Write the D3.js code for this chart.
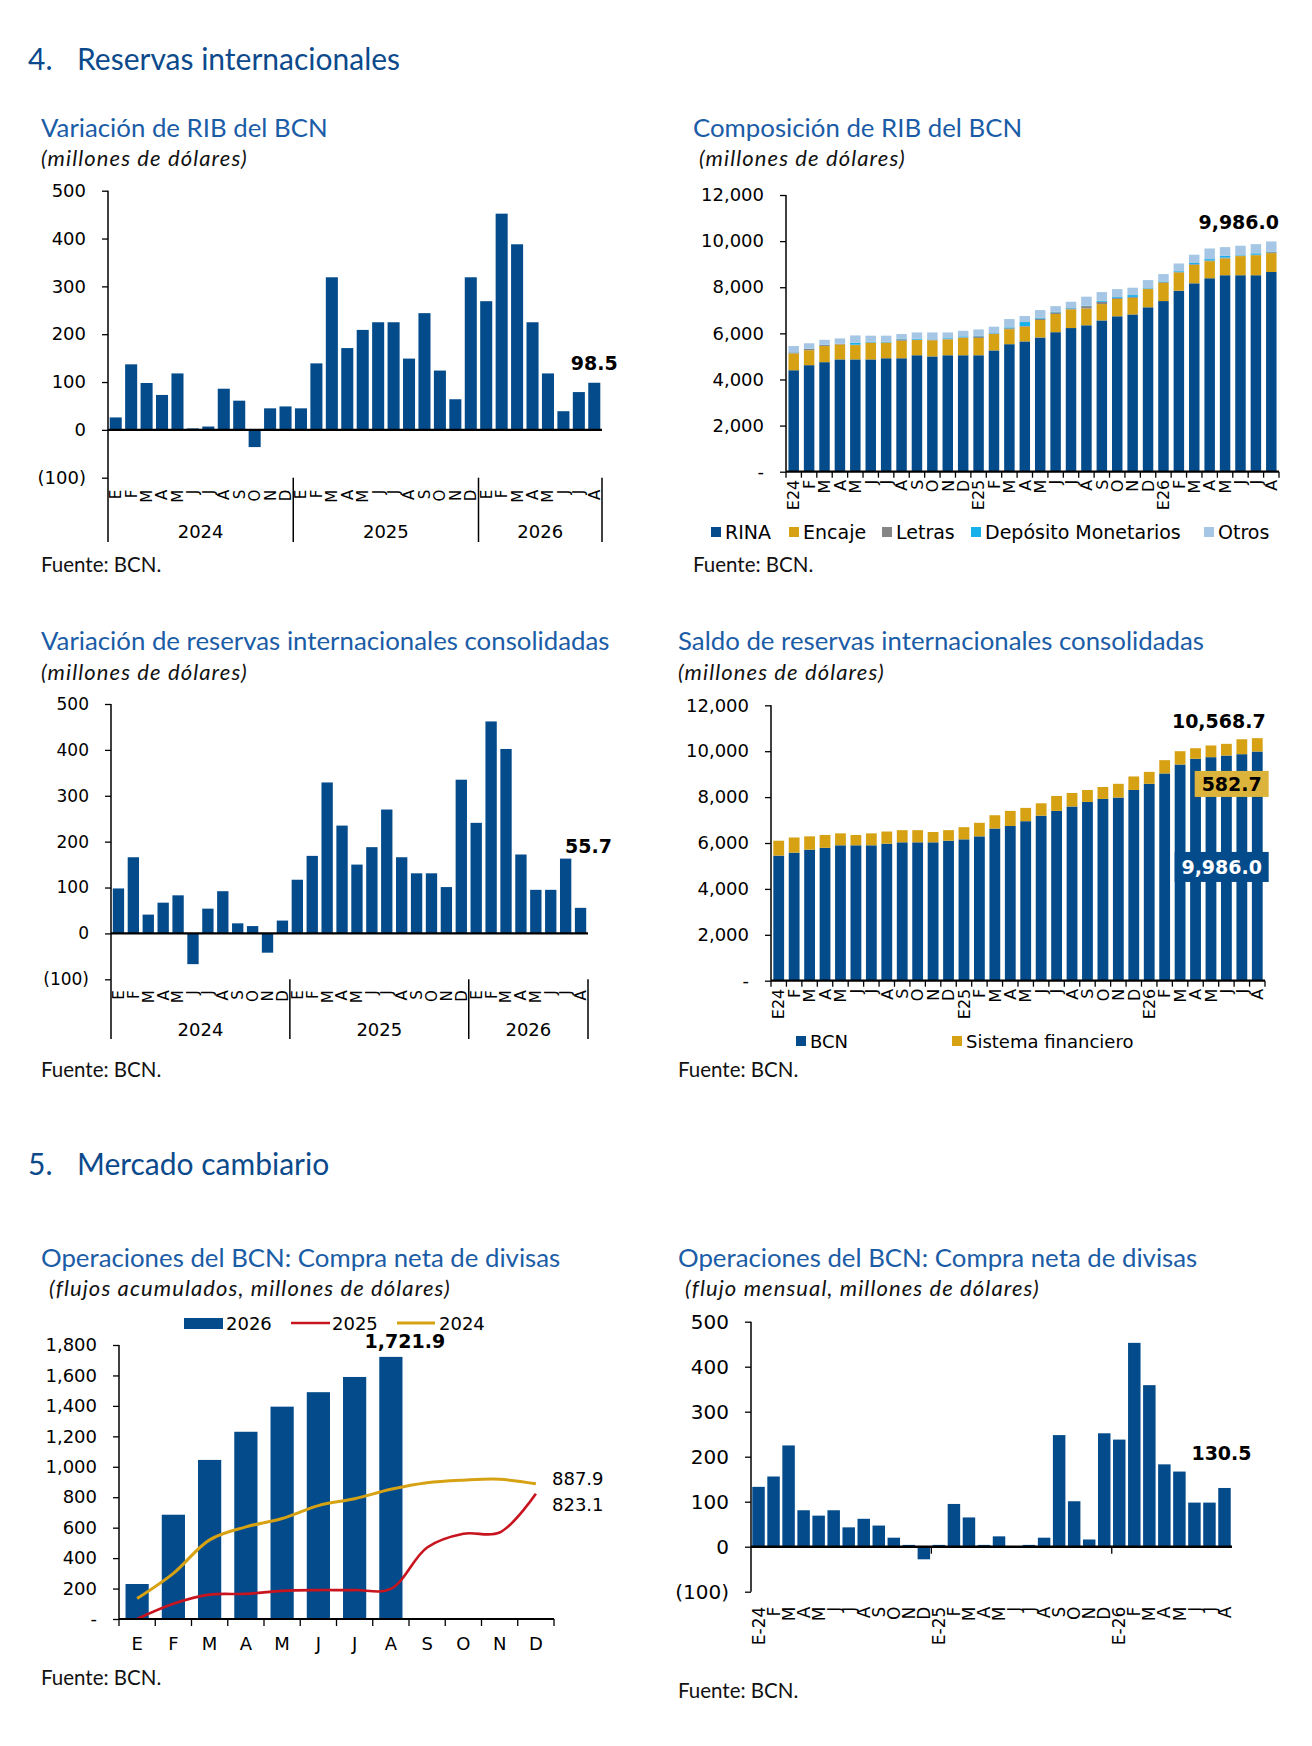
<!DOCTYPE html>
<html>
<head>
<meta charset="utf-8">
<script src="https://d3js.org/d3.v7.min.js"></script>
<style>
  body { margin: 0; background: #fff; }
  .head { font-family: Lato, sans-serif; font-size: 30px; fill: #0c4a8c; }
  .ttl { font-family: Lato, sans-serif; font-size: 25.8px; fill: #1a5ca6; }
  .sub { font-family: Lato, sans-serif; font-style: italic; font-size: 22px; letter-spacing: 1.1px; fill: #111; }
  .src { font-family: Lato, sans-serif; font-size: 20.5px; fill: #111; }
  .lbl { font-family: "DejaVu Sans", sans-serif; fill: #000; }
  .big { font-family: "DejaVu Sans", sans-serif; font-weight: bold; font-size: 19px; fill: #000; }
</style>
</head>
<body>
<script>

    // ---- data ----
    var mesesVar = ['E','F','M','A','M','J','J','A','S','O','N','D','E','F','M','A','M','J','J','A','S','O','N','D','E','F','M','A','M','J','J','A'];
    var anios = ['2024','2025','2026'];
    var aniosCorte = [0, 12, 24, 32];
    var mesesRIB = ['E24','F','M','A','M','J','J','A','S','O','N','D','E25','F','M','A','M','J','J','A','S','O','N','D','E26','F','M','A','M','J','J','A'];
    var mesesCompra = ['E-24','F','M','A','M','J','J','A','S','O','N','D','E-25','F','M','A','M','J','J','A','S','O','N','D','E-26','F','M','A','M','J','J','A'];
    var mesesAnio = ['E','F','M','A','M','J','J','A','S','O','N','D'];

    var varRIB = [26,137,98,73,118,3,7,86,61,-36,45,49, 45,139,319,171,209,225,225,149,244,124,64,319, 269,452,388,225,118,39,79,98.5];

    var rina     = [4400,4620,4750,4870,4870,4870,4920,4920,5050,5000,5050,5050, 5050,5260,5530,5650,5820,6050,6230,6350,6560,6740,6820,7130, 7400,7850,8170,8390,8520,8520,8520,8660];
    var encaje   = [730,650,700,650,620,720,670,760,660,700,690,760, 750,710,650,640,760,790,810,730,710,750,720,790, 790,790,800,740,730,830,870,820];
    var letras   = [40,60,40,20,20,20,20,60,20,30,20,20, 70,20,40,30,60,70,40,100,100,40,40,20, 30,30,30,30,40,20,20,40];
    var deposito = [10,10,10,10,80,30,30,20,40,10,30,40, 20,20,40,170,30,20,20,20,40,40,80,20, 30,30,50,60,70,20,60,20];
    var otros    = [270,230,220,230,320,260,260,210,270,300,250,240, 280,280,360,260,340,250,270,390,380,350,320,350, 320,330,360,460,380,410,400,446];

    var varRIC = [98,166,41,67,83,-67,54,92,22,16,-42,28, 117,169,329,235,150,188,270,166,131,131,101,335, 241,462,402,172,95,95,163,55.7];

    var bcn    = [5450,5580,5710,5790,5900,5900,5900,5970,6030,6030,6030,6100, 6160,6290,6630,6740,6950,7190,7400,7590,7790,7920,7980,8310, 8580,9030,9420,9670,9740,9810,9870,9986.0];
    var sisFin = [650,660,580,560,520,450,520,530,530,530,450,460, 530,590,580,660,580,540,650,590,520,520,600,590, 520,580,580,460,510,510,650,582.7];

    var compra2026 = [230,685,1045,1230,1395,1490,1590,1721.9];
    var acum2025 = [0,100,160,165,185,190,190,198,470,560,568,823.1];
    var acum2024 = [135,300,520,605,660,745,790,852,895,912,918,887.9];

    var compraMensual = [133,156,225,81,69,81,43,62,47,20,4,-28, 4,95,65,4,23,0,4,20,248,101,16,252, 238,453,359,183,167,98,98,130.5];

    var ticksVar = [-100,0,100,200,300,400,500];
    var ticksSaldo = [0,2000,4000,6000,8000,10000,12000];
    var ticksAcum = [0,200,400,600,800,1000,1200,1400,1600,1800];

    // ---- colours ----
    var BLUE = '#034b8a', GOLD = '#d6a214', RED = '#c8141e', GRAY = '#858585', CYAN = '#16b1eb', LIGHT = '#a5c7e5';

    var svg = d3.select('body').append('svg')
        .attr('width', 1312)
        .attr('height', 1746)
        .style('display', 'block');

    function txt(x, y, s, cls) {
        return svg.append('text').attr('x', x).attr('y', y).attr('class', cls).text(s);
    }

    var fmtParen = function(d) { return d < 0 ? '(' + d3.format(',')(-d) + ')' : d3.format(',')(d); };
    var fmtDash = function(d) { return d === 0 ? '-' : d3.format(',')(d); };

    function yAxis(g, y, x0, vals, fmt, fs) {
        var a = g.append('g')
            .attr('transform', 'translate(' + x0 + ',0)')
            .call(d3.axisLeft(y).tickValues(vals).tickFormat(fmt).tickSize(6).tickPadding(16));
        a.select('.domain').remove();
        a.selectAll('line').attr('stroke', '#000').attr('stroke-width', 1.3);
        a.selectAll('text').attr('class', 'lbl').attr('font-size', fs);
        return a;
    }

    function vline(g, x, y1, y2, w) {
        g.append('line').attr('x1', x).attr('x2', x).attr('y1', y1).attr('y2', y2)
            .attr('stroke', '#000').attr('stroke-width', w || 1.5);
    }
    function hline(g, x1, x2, y, w) {
        g.append('line').attr('x1', x1).attr('x2', x2).attr('y1', y).attr('y2', y)
            .attr('stroke', '#000').attr('stroke-width', w || 1.5);
    }

    function rotLabels(g, x, labels, top, fs) {
        g.selectAll('text.m').data(labels).enter().append('text')
            .attr('class', 'lbl m')
            .attr('font-size', fs)
            .attr('text-anchor', 'end')
            .attr('dy', '0.36em')
            .attr('transform', function(d, i) {
                return 'translate(' + (x(i) + x.bandwidth() / 2) + ',' + top + ') rotate(-90)';
            })
            .text(function(d) { return d; });
    }

    // ---- headers ----
    txt(28, 70, '4.', 'head');
    txt(77, 70, 'Reservas internacionales', 'head');
    txt(28, 1175, '5.', 'head');
    txt(77, 1175, 'Mercado cambiario', 'head');

    // ---- variation bar charts (1, 3, 6) ----
    function varChart(o) {
        var g = svg.append('g');
        var x = d3.scaleBand().domain(d3.range(o.values.length)).range(o.xr)
            .paddingInner(o.pad).paddingOuter(o.pad / 2);
        var y = d3.scaleLinear().domain([-100, 500]).range(o.yr);

        g.selectAll('rect').data(o.values).enter().append('rect')
            .attr('x', function(d, i) { return x(i); })
            .attr('width', x.bandwidth())
            .attr('y', function(d) { return y(Math.max(0, d)); })
            .attr('height', function(d) { return Math.abs(y(d) - y(0)); })
            .attr('fill', BLUE);

        yAxis(g, y, o.xr[0], ticksVar, fmtParen, o.fs);
        vline(g, o.xr[0], y(500), o.axisEnd || y(-100));
        hline(g, o.xr[0], o.xr[1], y(0), 2.4);

        rotLabels(g, x, o.labels, y(-100) + o.lblOff, o.mfs);

        var step = x.step();
        if (o.groups) {
            aniosCorte.slice(1).forEach(function(b) {
                vline(g, o.xr[0] + b * step, y(-100), o.axisEnd);
            });
            g.selectAll('text.yr').data(anios).enter().append('text')
                .attr('class', 'lbl yr').attr('font-size', 18).attr('text-anchor', 'middle')
                .attr('x', function(d, i) { return o.xr[0] + (aniosCorte[i] + aniosCorte[i + 1]) / 2 * step; })
                .attr('y', o.yearY)
                .text(function(d) { return d; });
        }
        if (o.cuts) {
            o.cuts.forEach(function(b) {
                vline(g, o.xr[0] + b * step, y(0), y(0) + 7, 1.3);
            });
        }
        var last = o.values.length - 1;
        g.append('text').attr('class', 'big').attr('text-anchor', 'middle')
            .attr('x', x(last) + x.bandwidth() / 2 + o.lab[0])
            .attr('y', y(o.values[last]) + o.lab[1])
            .text(d3.format('.1f')(o.values[last]));
        return g;
    }

    // ---- stacked charts (2, 4) ----
    function stackChart(o) {
        var g = svg.append('g');
        var n = o.labels.length;
        var x = d3.scaleBand().domain(d3.range(n)).range(o.xr)
            .paddingInner(o.pad).paddingOuter(o.pad / 2);
        var y = d3.scaleLinear().domain([0, 12000]).range(o.yr);
        var keys = o.series.map(function(s) { return s.name; });
        var rows = d3.range(n).map(function(i) {
            var r = {};
            o.series.forEach(function(s) { r[s.name] = s.values[i]; });
            return r;
        });
        var st = d3.stack().keys(keys)(rows);

        g.selectAll('g.s').data(st).enter().append('g')
            .attr('fill', function(d, i) { return o.series[i].color; })
            .selectAll('rect').data(function(d) { return d; }).enter().append('rect')
            .attr('x', function(d, i) { return x(i); })
            .attr('width', x.bandwidth())
            .attr('y', function(d) { return y(d[1]); })
            .attr('height', function(d) { return y(d[0]) - y(d[1]); });

        yAxis(g, y, o.xr[0], ticksSaldo, fmtDash, o.fs);
        vline(g, o.xr[0], y(12000), y(0));
        hline(g, o.xr[0], o.xr[1], y(0), 2.2);
        var step = x.step();
        d3.range(n + 1).forEach(function(i) {
            vline(g, o.xr[0] + i * step, y(0), y(0) + 6, 1.3);
        });
        rotLabels(g, x, o.labels, y(0) + 8, 16);

        // legend
        o.series.forEach(function(s, i) {
            var lx = o.legend.xs[i];
            g.append('rect').attr('x', lx).attr('y', o.legend.y - 5).attr('width', 10).attr('height', 10).attr('fill', s.color);
            g.append('text').attr('class', 'lbl').attr('font-size', o.legend.fs)
                .attr('x', lx + 14).attr('y', o.legend.y + 7).text(s.name);
        });
        return { g: g, x: x, y: y };
    }

    // Chart 1
    txt(41, 137, 'Variación de RIB del BCN', 'ttl');
    txt(41, 166, '(millones de dólares)', 'sub');
    varChart({
        values: varRIB, labels: mesesVar, xr: [108, 602], yr: [477.7, 190.7], pad: 0.22,
        fs: 18, mfs: 15, lblOff: 12, axisEnd: 542, groups: true, yearY: 538, lab: [0, -13]
    });
    txt(41, 572, 'Fuente: BCN.', 'src');

    // Chart 2
    txt(693, 137, 'Composición de RIB del BCN', 'ttl');
    txt(699, 166, '(millones de dólares)', 'sub');
    var c2 = stackChart({
        labels: mesesRIB, xr: [786, 1279], yr: [471.7, 195], pad: 0.32, fs: 18,
        series: [
            { name: 'RINA', values: rina, color: BLUE },
            { name: 'Encaje', values: encaje, color: GOLD },
            { name: 'Letras', values: letras, color: GRAY },
            { name: 'Depósito Monetarios', values: deposito, color: CYAN },
            { name: 'Otros', values: otros, color: LIGHT }
        ],
        legend: { y: 532, xs: [711, 789, 882, 971, 1204], fs: 19 }
    });
    c2.g.append('text').attr('class', 'big').attr('text-anchor', 'end')
        .attr('x', 1279).attr('y', c2.y(d3.sum([rina, encaje, letras, deposito, otros], function(a) { return a[31]; })) - 12)
        .text('9,986.0');
    txt(693, 572, 'Fuente: BCN.', 'src');

    // Chart 3
    txt(41, 650, 'Variación de reservas internacionales consolidadas', 'ttl');
    txt(41, 680, '(millones de dólares)', 'sub');
    varChart({
        values: varRIC, labels: mesesVar, xr: [111, 588], yr: [979.3, 704], pad: 0.24,
        fs: 17, mfs: 15, lblOff: 11, axisEnd: 1039, groups: true, yearY: 1036, lab: [8, -55]
    });
    txt(41, 1077, 'Fuente: BCN.', 'src');

    // Chart 4
    txt(678, 650, 'Saldo de reservas internacionales consolidadas', 'ttl');
    txt(678, 680, '(millones de dólares)', 'sub');
    var c4 = stackChart({
        labels: mesesRIB, xr: [771, 1265], yr: [980.7, 705.3], pad: 0.3, fs: 18,
        series: [
            { name: 'BCN', values: bcn, color: BLUE },
            { name: 'Sistema financiero', values: sisFin, color: GOLD }
        ],
        legend: { y: 1041, xs: [796, 952], fs: 18 }
    });
    (function() {
        var x = c4.x, y = c4.y, xl = x(31) + x.bandwidth();
        var total = bcn[31] + sisFin[31];
        c4.g.append('text').attr('class', 'big').attr('text-anchor', 'end')
            .attr('x', xl + 3).attr('y', y(total) - 10).text(d3.format(',.1f')(total));
        c4.g.append('rect').attr('x', xl - 68).attr('y', y(9140)).attr('width', 74).attr('height', 26).attr('fill', '#dcb43c');
        c4.g.append('text').attr('class', 'big').attr('text-anchor', 'middle')
            .attr('x', xl - 31).attr('y', y(9140) + 20).text(d3.format('.1f')(sisFin[31]));
        c4.g.append('rect').attr('x', xl - 88).attr('y', y(5610)).attr('width', 94).attr('height', 30).attr('fill', BLUE);
        c4.g.append('text').attr('class', 'big').attr('text-anchor', 'middle').style('fill', '#fff')
            .attr('x', xl - 41).attr('y', y(5610) + 22).text(d3.format(',.1f')(bcn[31]));
    })();
    txt(678, 1077, 'Fuente: BCN.', 'src');

    // Chart 5
    txt(41, 1267, 'Operaciones del BCN: Compra neta de divisas', 'ttl');
    txt(49, 1296, '(flujos acumulados, millones de dólares)', 'sub');
    (function() {
        var g = svg.append('g');
        var x = d3.scaleBand().domain(d3.range(12)).range([119, 554]).paddingInner(0.36).paddingOuter(0.18);
        var y = d3.scaleLinear().domain([0, 1800]).range([1619, 1345]);
        var cx = function(i) { return x(i) + x.bandwidth() / 2; };

        g.selectAll('rect').data(compra2026).enter().append('rect')
            .attr('x', function(d, i) { return x(i); })
            .attr('width', x.bandwidth())
            .attr('y', function(d) { return y(d); })
            .attr('height', function(d) { return y(0) - y(d); })
            .attr('fill', BLUE);

        var line = d3.line()
            .x(function(d, i) { return cx(i); })
            .y(function(d) { return y(d); })
            .curve(d3.curveCatmullRom.alpha(0.5));
        g.append('path').attr('d', line(acum2025)).attr('fill', 'none').attr('stroke', RED).attr('stroke-width', 2.6);
        g.append('path').attr('d', line(acum2024)).attr('fill', 'none').attr('stroke', GOLD).attr('stroke-width', 3);

        yAxis(g, y, 119, ticksAcum, fmtDash, 18);
        vline(g, 119, y(1800), y(0));
        hline(g, 119, 554, y(0), 2);
        var step = x.step();
        d3.range(13).forEach(function(i) { vline(g, 119 + i * step, y(0), y(0) + 7, 1.3); });
        g.selectAll('text.mm').data(mesesAnio).enter().append('text')
            .attr('class', 'lbl mm').attr('font-size', 18).attr('text-anchor', 'middle')
            .attr('x', function(d, i) { return cx(i); }).attr('y', 1650)
            .text(function(d) { return d; });

        var last = compra2026.length - 1;
        g.append('text').attr('class', 'big').attr('text-anchor', 'middle')
            .attr('x', cx(last) + 14).attr('y', y(compra2026[last]) - 9)
            .text(d3.format(',.1f')(compra2026[last]));
        g.append('text').attr('class', 'lbl').attr('font-size', 18)
            .attr('x', 552).attr('y', y(acum2024[11]) + 1).text(d3.format(',.1f')(acum2024[11]));
        g.append('text').attr('class', 'lbl').attr('font-size', 18)
            .attr('x', 552).attr('y', y(acum2025[11]) + 17).text(d3.format(',.1f')(acum2025[11]));

        // legend
        var ly = 1323;
        g.append('rect').attr('x', 184).attr('y', ly - 5).attr('width', 39).attr('height', 11).attr('fill', BLUE);
        g.append('text').attr('class', 'lbl').attr('font-size', 18).attr('x', 226).attr('y', ly + 7).text('2026');
        g.append('line').attr('x1', 291).attr('x2', 330).attr('y1', ly).attr('y2', ly).attr('stroke', RED).attr('stroke-width', 2.6);
        g.append('text').attr('class', 'lbl').attr('font-size', 18).attr('x', 332).attr('y', ly + 7).text('2025');
        g.append('line').attr('x1', 397).attr('x2', 435).attr('y1', ly).attr('y2', ly).attr('stroke', GOLD).attr('stroke-width', 3);
        g.append('text').attr('class', 'lbl').attr('font-size', 18).attr('x', 439).attr('y', ly + 7).text('2024');
    })();
    txt(41, 1685, 'Fuente: BCN.', 'src');

    // Chart 6
    txt(678, 1267, 'Operaciones del BCN: Compra neta de divisas', 'ttl');
    txt(685, 1296, '(flujo mensual, millones de dólares)', 'sub');
    varChart({
        values: compraMensual, labels: mesesCompra, xr: [751, 1232], yr: [1591.7, 1321.7], pad: 0.17,
        fs: 20, mfs: 17, lblOff: 15, groups: false, cuts: [12, 24], lab: [-3, -28]
    });
    txt(678, 1698, 'Fuente: BCN.', 'src');

</script>
</body>
</html>
